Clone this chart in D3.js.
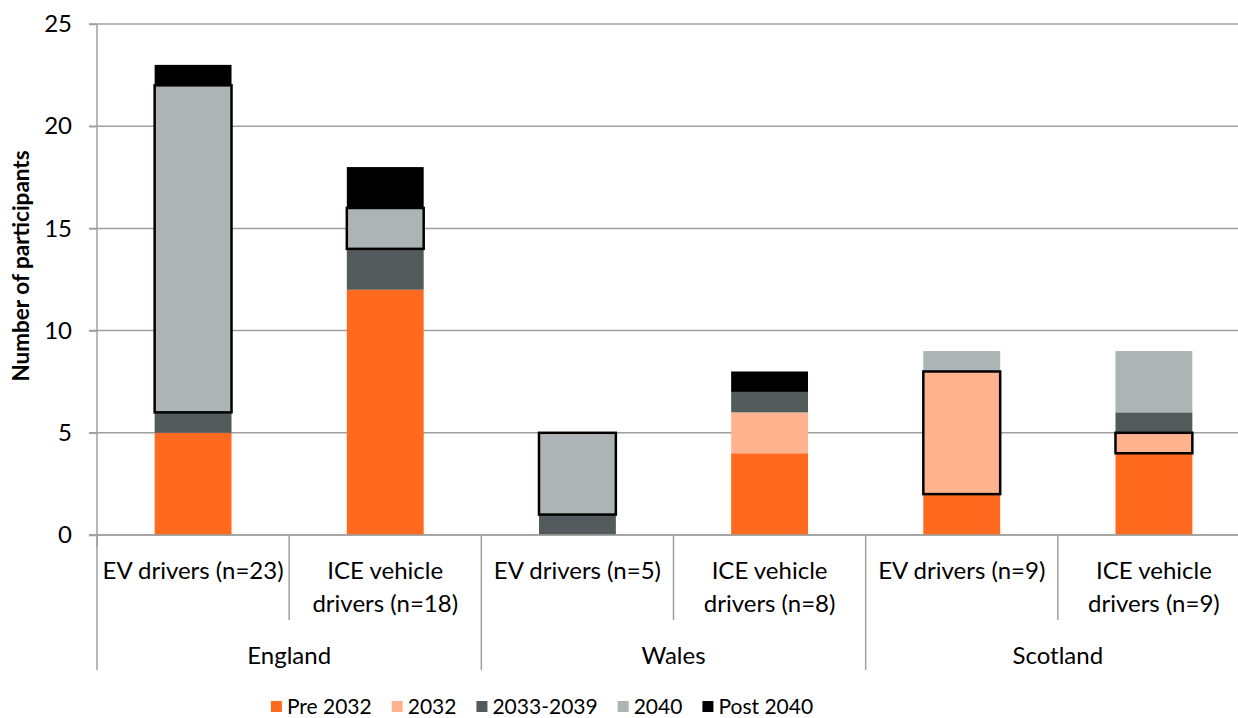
<!DOCTYPE html>
<html>
<head>
<meta charset="utf-8">
<script src="https://cdn.jsdelivr.net/npm/d3@7"></script>
<style>
  body { margin: 0; background: #fff; }
  text { font-family: Lato, "Open Sans", sans-serif; fill: #000; }
</style>
</head>
<body>
<div id="chart"></div>
<script>
// data
const countries = ["England", "Wales", "Scotland"];
const groups = ["EV drivers (n=23)", "ICE vehicle drivers (n=18)", "EV drivers (n=5)", "ICE vehicle drivers (n=8)", "EV drivers (n=9)", "ICE vehicle drivers (n=9)"];
const groupCountry = ["England", "England", "Wales", "Wales", "Scotland", "Scotland"];
const series = ["Pre 2032", "2032", "2033-2039", "2040", "Post 2040"];
const colors = ["#ff6a1f", "#ffb48f", "#525a5c", "#adb4b6", "#000000"];
const pre2032 = [5, 12, 0, 4, 2, 4];
const y2032 = [0, 0, 0, 2, 6, 1];
const y2033_2039 = [1, 2, 1, 1, 0, 1];
const y2040 = [16, 2, 4, 0, 1, 3];
const post2040 = [1, 2, 0, 1, 0, 0];
// which segment is outlined for each bar (the country's own target year)
const highlighted = ["2040", "2040", "2040", "2040", "2032", "2032"];
const yTicks = [0, 5, 10, 15, 20, 25];

const width = 1238, height = 718;
const margin = { top: 24, left: 97, bottom: 183 };
const plotRight = 1250;

const svg = d3.select("#chart").append("svg")
  .attr("width", width)
  .attr("height", height);

const rows = groups.map((g, i) => ({
  group: g,
  "Pre 2032": pre2032[i],
  "2032": y2032[i],
  "2033-2039": y2033_2039[i],
  "2040": y2040[i],
  "Post 2040": post2040[i]
}));

const stack = d3.stack().keys(series)(rows);

let x = d3.scaleBand()
  .domain(d3.range(groups.length))
  .range([margin.left, plotRight])
  .paddingInner(0)
  .paddingOuter(0);

let y = d3.scaleLinear()
  .domain([0, 25])
  .range([height - margin.bottom, margin.top]);

let color = d3.scaleOrdinal().domain(series).range(colors);

// gridlines
svg.append("g")
  .selectAll("line")
  .data(yTicks)
  .join("line")
  .attr("x1", margin.left - 8)
  .attr("x2", plotRight)
  .attr("y1", d => y(d))
  .attr("y2", d => y(d))
  .attr("stroke", "#a0a0a0")
  .attr("stroke-width", 1.5);

// y axis
let yaxis = svg.append("g")
  .attr("transform", `translate(${margin.left},0)`)
  .call(d3.axisLeft(y).tickValues(yTicks).tickSize(8).tickPadding(17));
yaxis.select(".domain").remove();
yaxis.selectAll(".tick line").attr("stroke", "#a0a0a0").attr("stroke-width", 1.5);
yaxis.selectAll(".tick text")
  .attr("font-size", 24)
  .attr("font-family", "Lato, sans-serif")
  .attr("fill", "#000");

svg.append("line")
  .attr("x1", margin.left)
  .attr("x2", margin.left)
  .attr("y1", y(25))
  .attr("y2", y(0) + 12)
  .attr("stroke", "#a0a0a0")
  .attr("stroke-width", 1.5);

svg.append("text")
  .attr("transform", `translate(29, 266) rotate(-90)`)
  .attr("text-anchor", "middle")
  .attr("font-size", 22.5)
  .attr("font-weight", "bold")
  .text("Number of participants");

// bars
const barW = x.bandwidth() * 0.4;
svg.append("g")
  .selectAll("g")
  .data(stack)
  .join("g")
  .attr("fill", d => color(d.key))
  .selectAll("rect")
  .data(d => d.map((v, i) => ({ v, i, key: d.key })))
  .join("rect")
  .attr("x", d => x(d.i) + (x.bandwidth() - barW) / 2)
  .attr("y", d => y(d.v[1]))
  .attr("height", d => y(d.v[0]) - y(d.v[1]))
  .attr("width", barW);

// outlined segments
const outlines = [];
stack.forEach(s => {
  s.forEach((v, i) => {
    if (highlighted[i] === s.key && v[1] > v[0]) outlines.push({ v, i });
  });
});
svg.append("g")
  .selectAll("rect")
  .data(outlines)
  .join("rect")
  .attr("x", d => x(d.i) + (x.bandwidth() - barW) / 2)
  .attr("y", d => y(d.v[1]))
  .attr("height", d => y(d.v[0]) - y(d.v[1]))
  .attr("width", barW)
  .attr("fill", "none")
  .attr("stroke", "#000")
  .attr("stroke-width", 2.5);

// category axis: baseline
svg.append("line")
  .attr("x1", margin.left - 8)
  .attr("x2", plotRight)
  .attr("y1", y(0))
  .attr("y2", y(0))
  .attr("stroke", "#a0a0a0")
  .attr("stroke-width", 1.5);

// separators between bars and countries
const edges = d3.range(groups.length + 1);
svg.append("g")
  .selectAll("line")
  .data(edges)
  .join("line")
  .attr("x1", i => i < groups.length ? x(i) : plotRight)
  .attr("x2", i => i < groups.length ? x(i) : plotRight)
  .attr("y1", y(0))
  .attr("y2", i => i % 2 === 0 ? 670 : 620)
  .attr("stroke", "#a0a0a0")
  .attr("stroke-width", 1.5);

// bar labels (wrapped in two lines where the picture wraps)
const labelLines = groups.map(g => g.startsWith("ICE") ? ["ICE vehicle", g.replace("ICE vehicle ", "")] : [g]);
svg.append("g")
  .selectAll("text")
  .data(labelLines)
  .join("text")
  .attr("text-anchor", "middle")
  .attr("font-size", 24)
  .attr("x", (d, i) => x(i) + x.bandwidth() / 2)
  .attr("y", 579)
  .selectAll("tspan")
  .data(d => d)
  .join("tspan")
  .attr("x", function () { return d3.select(this.parentNode).attr("x"); })
  .attr("dy", (d, j) => j === 0 ? 0 : 33)
  .text(d => d);

// country labels
svg.append("g")
  .selectAll("text")
  .data(countries)
  .join("text")
  .attr("text-anchor", "middle")
  .attr("font-size", 24)
  .attr("x", c => {
    const idx = groupCountry.map((g, i) => g === c ? i : -1).filter(i => i >= 0);
    return (x(idx[0]) + x(idx[idx.length - 1]) + x.bandwidth()) / 2;
  })
  .attr("y", 664)
  .text(c => c);

// legend, laid out left to right and centred like the original
const legend = svg.append("g");
const items = legend.selectAll("g")
  .data(series)
  .join("g");
items.append("rect")
  .attr("width", 11)
  .attr("height", 11)
  .attr("y", 701)
  .attr("fill", d => color(d));
items.append("text")
  .attr("x", 16)
  .attr("y", 714)
  .attr("font-size", 21)
  .text(d => d);

let pos = 0;
const gap = 20;
items.each(function () {
  const w = 16 + d3.select(this).select("text").node().getComputedTextLength();
  d3.select(this).attr("transform", `translate(${pos},0)`);
  pos += w + gap;
});
const total = pos - gap;
legend.attr("transform", `translate(${542 - total / 2},0)`);
</script>
</body>
</html>
